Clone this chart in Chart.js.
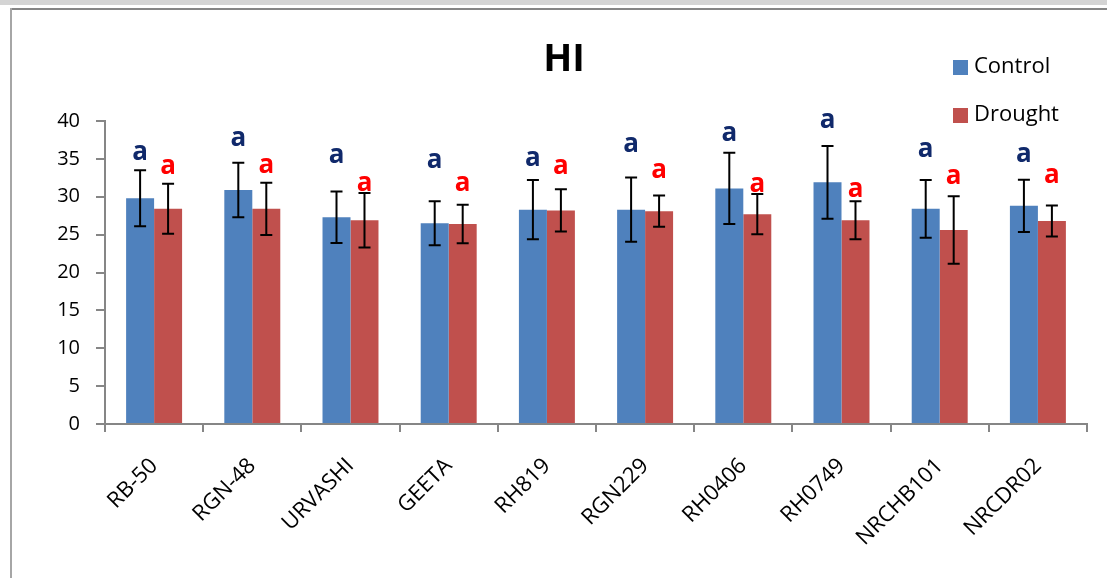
<!DOCTYPE html>
<html>
<head>
<meta charset="utf-8">
<script src="https://cdn.jsdelivr.net/npm/chart.js@4"></script>
<style>
  body { margin: 0; background: #fff; }
  .wrap { position: relative; width: 1107px; height: 578px; overflow: hidden; }
  .band { position: absolute; left: 0; top: 0; width: 1107px; height: 5px; background: #d4d4d4; }
  .frameTop { position: absolute; left: 10px; top: 8px; width: 1097px; height: 2px; background: #858585; }
  .frameLeft { position: absolute; left: 10px; top: 8px; width: 2px; height: 570px; background: #a6a6a6; }
  canvas { position: absolute; left: 0; top: 0; }
</style>
</head>
<body>
<div class="wrap">
  <div class="band"></div>
  <div class="frameTop"></div>
  <div class="frameLeft"></div>
  <canvas id="hiChart" width="1107" height="578"></canvas>
</div>
<script>
// data
const categories = ['RB-50', 'RGN-48', 'URVASHI', 'GEETA', 'RH819', 'RGN229', 'RH0406', 'RH0749', 'NRCHB101', 'NRCDR02'];
const controlHI = [29.8, 30.9, 27.3, 26.5, 28.3, 28.3, 31.1, 31.9, 28.4, 28.8];
const droughtHI = [28.4, 28.4, 26.9, 26.4, 28.2, 28.1, 27.7, 26.9, 25.6, 26.8];
const controlErr = [3.7, 3.6, 3.4, 2.9, 3.9, 4.25, 4.7, 4.8, 3.8, 3.45];
const droughtErr = [3.3, 3.45, 3.6, 2.55, 2.8, 2.05, 2.65, 2.5, 4.45, 2.05];
// significance letters and the value level they sit at
const controlLetters = ['a', 'a', 'a', 'a', 'a', 'a', 'a', 'a', 'a', 'a'];
const droughtLetters = ['a', 'a', 'a', 'a', 'a', 'a', 'a', 'a', 'a', 'a'];
const controlLetterAt = [35.4, 37.3, 35.1, 34.4, 34.6, 36.5, 38.0, 39.6, 35.8, 35.2];
const droughtLetterAt = [33.6, 33.7, 31.4, 31.4, 33.55, 33.1, 31.2, 30.5, 32.3, 32.4];
const yTicks = [0, 5, 10, 15, 20, 25, 30, 35, 40];

const FONT = '"Open Sans", "Liberation Sans", sans-serif';

// error bars, letters, title and legend
const extras = {
  id: 'extras',
  afterDatasetsDraw(chart) {
    const { ctx, scales: { y } } = chart;
    const sets = [
      { err: controlErr, at: controlLetterAt, letters: controlLetters, color: '#10296b' },
      { err: droughtErr, at: droughtLetterAt, letters: droughtLetters, color: '#ff0000' }
    ];
    ctx.save();
    sets.forEach((s, di) => {
      const meta = chart.getDatasetMeta(di);
      const vals = chart.data.datasets[di].data;
      meta.data.forEach((bar, i) => {
        const yHi = y.getPixelForValue(vals[i] + s.err[i]);
        const yLo = y.getPixelForValue(vals[i] - s.err[i]);
        ctx.strokeStyle = '#000';
        ctx.lineWidth = 2;
        ctx.beginPath();
        ctx.moveTo(bar.x, yHi); ctx.lineTo(bar.x, yLo);
        ctx.moveTo(bar.x - 6, yHi); ctx.lineTo(bar.x + 6, yHi);
        ctx.moveTo(bar.x - 6, yLo); ctx.lineTo(bar.x + 6, yLo);
        ctx.stroke();

        ctx.fillStyle = s.color;
        ctx.font = 'bold 26px ' + FONT;
        ctx.textAlign = 'center';
        ctx.textBaseline = 'middle';
        ctx.fillText(s.letters[i], bar.x, y.getPixelForValue(s.at[i]) - 3);
      });
    });

    // title
    ctx.fillStyle = '#000';
    ctx.font = 'bold 38px ' + FONT;
    ctx.textAlign = 'center';
    ctx.textBaseline = 'middle';
    ctx.fillText('HI', 564, 60);

    // legend
    ctx.font = '22px ' + FONT;
    ctx.textAlign = 'left';
    chart.data.datasets.forEach((ds, i) => {
      const cy = 67 + i * 48;
      ctx.fillStyle = ds.backgroundColor;
      ctx.fillRect(953, cy - 7, 15, 15);
      ctx.fillStyle = '#000';
      ctx.fillText(ds.label, 974, cy);
    });
    ctx.restore();
  }
};

new Chart(document.getElementById('hiChart'), {
  type: 'bar',
  data: {
    labels: categories,
    datasets: [
      { label: 'Control', data: controlHI, backgroundColor: '#4f81bd' },
      { label: 'Drought', data: droughtHI, backgroundColor: '#c0504d' }
    ]
  },
  options: {
    responsive: false,
    animation: false,
    datasets: { bar: { barPercentage: 1, categoryPercentage: 0.57 } },
    layout: { padding: { top: 121, right: 20, left: 0, bottom: 0 } },
    plugins: { legend: { display: false }, title: { display: false }, tooltip: { enabled: false } },
    scales: {
      x: {
        offset: true,
        grid: { display: true, offset: true, drawOnChartArea: false, color: '#868686', tickLength: 8, lineWidth: 2 },
        border: { color: '#868686', width: 2 },
        ticks: {
          minRotation: 45, maxRotation: 45, padding: 21,
          color: '#000', font: { family: FONT, size: 22 }
        },
        afterFit: s => { s.height = 154; }
      },
      y: {
        min: 0, max: 40,
        afterBuildTicks: s => { s.ticks = yTicks.map(v => ({ value: v })); },
        grid: { drawOnChartArea: false, color: '#868686', tickLength: 9, lineWidth: 2 },
        border: { color: '#868686', width: 2 },
        ticks: { padding: 16, color: '#000', font: { family: FONT, size: 20 } },
        afterFit: s => { s.width = 105; }
      }
    }
  },
  plugins: [extras]
});
</script>
</body>
</html>
